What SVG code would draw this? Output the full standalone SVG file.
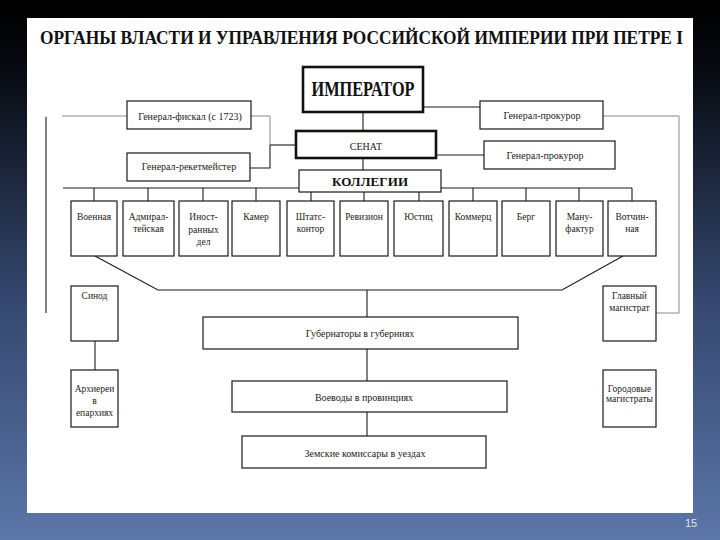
<svg xmlns="http://www.w3.org/2000/svg" width="720" height="540" viewBox="0 0 720 540">
<defs>
<linearGradient id="bg" x1="0" y1="0" x2="0" y2="1">
<stop offset="0" stop-color="#000000"/>
<stop offset="0.12" stop-color="#07090f"/>
<stop offset="0.55" stop-color="#34476e"/>
<stop offset="1" stop-color="#5b76a8"/>
</linearGradient>
</defs>
<style>
.box{fill:#fff;stroke:#1a1a1a;stroke-width:1.2}
.thick{fill:#fff;stroke:#111;stroke-width:2.6}
.ln{fill:none;stroke:#1a1a1a;stroke-width:1.1}
.gl{fill:none;stroke:#8a8a8a;stroke-width:1}
.t{font-family:"Liberation Serif","Times New Roman","DejaVu Serif",serif;font-size:10px;fill:#1a1a1a;text-anchor:middle}
.s{font-size:9.5px}
.tb{font-family:"Liberation Serif","Times New Roman","DejaVu Serif",serif;font-weight:bold;fill:#111;text-anchor:middle}
</style>
<rect x="0" y="0" width="720" height="540" fill="url(#bg)"/>
<rect x="27" y="18" width="666" height="495" fill="#fff"/>
<text x="40" y="44" font-family="'Liberation Serif', 'Times New Roman', serif" font-weight="bold" font-size="18" fill="#111" textLength="643" lengthAdjust="spacingAndGlyphs">ОРГАНЫ ВЛАСТИ И УПРАВЛЕНИЯ РОССИЙСКОЙ ИМПЕРИИ ПРИ ПЕТРЕ I</text>

<g id="connectors">
<path class="ln" d="M363 112V131M363 158V170"/>
<path class="ln" d="M423 107H480"/>
<path class="ln" d="M436 155H484"/>
<path class="gl" d="M62 116H127"/>
<path class="gl" d="M251 116H270V145"/>
<path class="ln" d="M270 145H296"/>
<path class="ln" d="M250 168H270V145"/>
<path class="ln" d="M46 117V313"/>
<path class="gl" d="M603 116H679V313H656"/>
<path class="ln" d="M63 188H632"/>
<path class="ln" d="M94 188V201M148 188V201M203 188V201M256 188V201M311 188V201M364 188V201M419 188V201M473 188V201M526 188V201M579 188V201M632 188V201"/>
<path class="ln" d="M95 256L158 290H562L623 256"/>
<path class="ln" d="M367 290V317M367 349V381M367 412V436"/>
<path class="ln" d="M95 341V370"/>
</g>

<g id="imperator"><rect class="thick" x="303" y="67" width="120" height="45"/><text class="tb" x="363" y="96" font-size="20" textLength="103" lengthAdjust="spacingAndGlyphs">ИМПЕРАТОР</text></g>
<g id="fiskal"><rect class="box" x="127" y="101" width="124" height="28"/><text class="t" x="190" y="119.5">Генерал-фискал (с 1723)</text></g>
<g id="reketmeister"><rect class="box" x="127" y="153" width="123" height="28"/><text class="t" x="189" y="170">Генерал-рекетмейстер</text></g>
<g id="prokuror1"><rect class="box" x="480" y="101" width="123" height="28"/><text class="t" x="542" y="119">Генерал-прокурор</text></g>
<g id="prokuror2"><rect class="box" x="484" y="141" width="131" height="28"/><text class="t" x="545" y="158.5">Генерал-прокурор</text></g>
<g id="senat"><rect class="thick" x="296" y="131" width="140" height="27"/><text class="t" x="366" y="150" font-size="14">СЕНАТ</text></g>
<g id="kollegii"><rect class="box" x="299" y="170" width="142" height="22"/><text class="tb" x="370" y="185.5" font-size="13" textLength="76" lengthAdjust="spacing">КОЛЛЕГИИ</text></g>

<g id="voennaya"><rect class="box" x="71" y="201" width="46" height="55"/><text class="t s" x="94" y="220">Военная</text></g>
<g id="admiral"><rect class="box" x="123" y="201" width="51" height="55"/><text class="t s" x="148.5" y="220">Адмирал-</text><text class="t s" x="148.5" y="232">тейская</text></g>
<g id="inostr"><rect class="box" x="179" y="201" width="49" height="55"/><text class="t s" x="203.5" y="220">Иност-</text><text class="t s" x="203.5" y="232.5">ранных</text><text class="t s" x="203.5" y="245">дел</text></g>
<g id="kamer"><rect class="box" x="232" y="201" width="48" height="55"/><text class="t s" x="256" y="220">Камер</text></g>
<g id="shtats"><rect class="box" x="287" y="201" width="47" height="55"/><text class="t s" x="310.5" y="220">Штатс-</text><text class="t s" x="310.5" y="232">контор</text></g>
<g id="revizion"><rect class="box" x="340" y="201" width="48" height="55"/><text class="t s" x="364" y="220">Ревизион</text></g>
<g id="yustits"><rect class="box" x="394" y="201" width="49" height="55"/><text class="t s" x="418.5" y="220">Юстиц</text></g>
<g id="kommerts"><rect class="box" x="449" y="201" width="48" height="55"/><text class="t s" x="473" y="220">Коммерц</text></g>
<g id="berg"><rect class="box" x="502" y="201" width="48" height="55"/><text class="t s" x="526" y="220">Берг</text></g>
<g id="manufaktur"><rect class="box" x="556" y="201" width="47" height="55"/><text class="t s" x="579.5" y="220">Ману-</text><text class="t s" x="579.5" y="232">фактур</text></g>
<g id="votchinnaya"><rect class="box" x="608" y="201" width="48" height="55"/><text class="t s" x="632" y="220">Вотчин-</text><text class="t s" x="632" y="232">ная</text></g>

<g id="sinod"><rect class="box" x="71" y="286" width="47" height="55"/><text class="t s" x="94.5" y="299">Синод</text></g>
<g id="arkhierei"><rect class="box" x="71" y="370" width="47" height="57"/><text class="t s" x="94.5" y="392">Архиереи</text><text class="t s" x="94.5" y="404">в</text><text class="t s" x="94.5" y="416">епархиях</text></g>
<g id="glavmag"><rect class="box" x="603" y="286" width="53" height="55"/><text class="t s" x="629.5" y="299">Главный</text><text class="t s" x="629.5" y="311">магистрат</text></g>
<g id="gorodmag"><rect class="box" x="603" y="370" width="53" height="57"/><text class="t s" x="629.5" y="392">Городовые</text><text class="t s" x="629.5" y="402">магистраты</text></g>

<g id="gubernatory"><rect class="box" x="203" y="317" width="315" height="32"/><text class="t" x="360" y="336.5">Губернаторы в губерниях</text></g>
<g id="voevody"><rect class="box" x="232" y="381" width="275" height="31"/><text class="t" x="364" y="400.5">Воеводы в провинциях</text></g>
<g id="zemskie"><rect class="box" x="242" y="436" width="244" height="32"/><text class="t" x="365" y="456.5">Земские комиссары в уездах</text></g>

<text x="691" y="527" font-family="'Liberation Sans', Arial, sans-serif" font-size="11" fill="#dde6f4" text-anchor="middle">15</text>
</svg>
